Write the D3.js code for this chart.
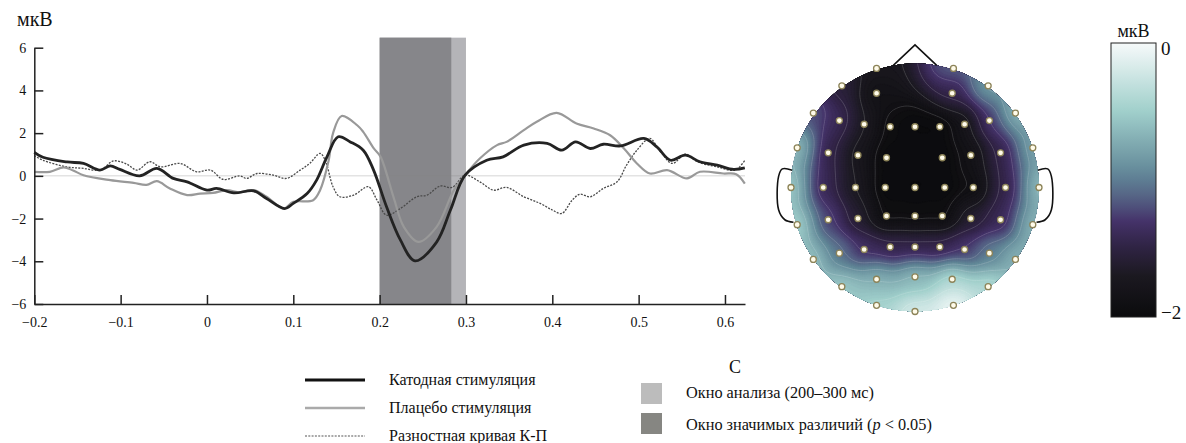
<!DOCTYPE html>
<html>
<head>
<meta charset="utf-8">
<script src="https://cdn.jsdelivr.net/npm/d3@7"></script>
<style>
  body { margin: 0; background: #fff; }
  svg { display: block; }
  text { font-family: "Liberation Serif", "Times New Roman", serif; fill: #111; }
</style>
</head>
<body>
<svg id="chart" width="1186" height="443"></svg>
<script>
// ---- ERP data (time in s, amplitude in uV) ----
const cathodeT = [-0.2, -0.19, -0.162, -0.143, -0.124, -0.112, -0.101, -0.078, -0.058, -0.039, -0.023, 0.0, 0.011, 0.031, 0.054, 0.069, 0.09, 0.1, 0.116, 0.127, 0.139, 0.152, 0.166, 0.181, 0.193, 0.208, 0.224, 0.241, 0.266, 0.282, 0.299, 0.324, 0.343, 0.367, 0.394, 0.411, 0.427, 0.444, 0.459, 0.479, 0.506, 0.521, 0.537, 0.554, 0.571, 0.591, 0.61, 0.623];
const cathodeV = [1.1, 0.87, 0.65, 0.58, 0.27, 0.47, 0.3, 0.0, 0.35, -0.12, -0.28, -0.67, -0.59, -0.8, -0.7, -1.06, -1.53, -1.29, -0.83, -0.2, 0.89, 1.83, 1.59, 1.2, 0.27, -1.45, -3.0, -3.98, -3.1, -1.6, 0.03, 0.73, 0.89, 1.44, 1.52, 1.2, 1.59, 1.28, 1.48, 1.4, 1.75, 1.36, 0.73, 0.97, 0.66, 0.5, 0.3, 0.37];

const placeboT = [-0.2, -0.182, -0.166, -0.155, -0.143, -0.112, -0.085, -0.07, -0.058, -0.043, -0.023, -0.008, 0.007, 0.023, 0.038, 0.054, 0.069, 0.089, 0.1, 0.123, 0.131, 0.141, 0.146, 0.156, 0.174, 0.181, 0.193, 0.201, 0.216, 0.228, 0.245, 0.266, 0.286, 0.299, 0.316, 0.336, 0.347, 0.367, 0.382, 0.405, 0.428, 0.448, 0.467, 0.483, 0.498, 0.513, 0.533, 0.556, 0.571, 0.598, 0.613, 0.623];
const placeboV = [0.19, 0.19, 0.4, 0.25, 0.03, -0.2, -0.33, -0.42, -0.25, -0.59, -0.9, -0.83, -0.8, -0.67, -0.77, -0.67, -0.98, -1.53, -1.22, -1.14, -0.67, 0.73, 1.99, 2.8, 2.37, 2.06, 1.3, 0.9, -0.98, -2.39, -3.09, -2.39, -0.67, 0.03, 0.81, 1.44, 1.59, 2.14, 2.53, 2.95, 2.45, 2.22, 1.9, 1.28, 0.58, 0.11, 0.27, -0.12, 0.19, 0.11, 0.08, -0.36];

const diffT = [-0.2, -0.19, -0.162, -0.143, -0.124, -0.108, -0.093, -0.081, -0.066, -0.054, -0.031, -0.012, 0.004, 0.019, 0.038, 0.046, 0.058, 0.077, 0.092, 0.108, 0.119, 0.131, 0.137, 0.146, 0.154, 0.17, 0.187, 0.197, 0.208, 0.224, 0.243, 0.255, 0.27, 0.284, 0.299, 0.316, 0.332, 0.347, 0.367, 0.386, 0.4, 0.411, 0.423, 0.432, 0.444, 0.459, 0.475, 0.486, 0.498, 0.513, 0.524, 0.539, 0.554, 0.568, 0.591, 0.612, 0.623];
const diffV = [0.95, 0.73, 0.42, 0.35, 0.27, 0.7, 0.55, 0.27, 0.66, 0.42, 0.58, 0.19, 0.27, -0.17, 0.0, -0.12, 0.11, 0.03, -0.12, 0.27, 0.58, 1.05, 0.73, -0.51, -0.98, -0.9, -0.51, -1.14, -1.84, -1.53, -0.98, -0.9, -0.48, -0.54, 0.03, -0.28, -0.67, -0.54, -0.98, -1.29, -1.6, -1.76, -1.14, -0.86, -0.98, -0.59, -0.28, 0.5, 1.2, 1.75, 1.2, 0.58, 1.02, 0.66, 0.42, 0.27, 0.73];

const xTicks = [-0.2, -0.1, 0, 0.1, 0.2, 0.3, 0.4, 0.5, 0.6];
const yTicks = [-6, -4, -2, 0, 2, 4, 6];
const analysisWindow = [0.2, 0.3];
const signifWindow = [0.2, 0.283];

// ---- topography: electrode positions (unit head coords) and mean amplitude 200-300 ms ----
const elecX = [-0.31, 0.31, -0.59, 0.59, -0.31, 0.30, -0.82, 0.81, -0.61, 0.60, -0.41, -0.20, 0, 0.20, 0.40, -0.95, 0.95, -0.70, -0.46, -0.23, 0.22, 0.45, 0.69, -1.0, -0.74, -0.48, -0.24, 0, 0.24, 0.47, 0.73, 1.0, -0.95, -0.70, -0.46, -0.23, 0, 0.22, 0.45, 0.69, 0.95, -0.61, -0.41, -0.20, 0, 0.20, 0.40, 0.60, -0.82, 0.81, -0.31, 0, 0.30, -0.59, 0.59, -0.31, 0.31, 0];
const elecY = [-0.96, -0.96, -0.82, -0.82, -0.76, -0.76, -0.60, -0.60, -0.54, -0.54, -0.51, -0.49, -0.49, -0.49, -0.51, -0.32, -0.32, -0.28, -0.26, -0.24, -0.24, -0.26, -0.28, 0, 0, 0, 0, 0, 0, 0, 0, 0, 0.30, 0.26, 0.25, 0.23, 0.23, 0.23, 0.25, 0.26, 0.30, 0.53, 0.50, 0.48, 0.48, 0.48, 0.50, 0.53, 0.58, 0.58, 0.74, 0.72, 0.74, 0.80, 0.80, 0.95, 0.95, 1.0];
const elecV = [-1.75, -1.15, -1.55, -0.85, -1.85, -1.45, -1.2, -0.7, -1.4, -1.3, -1.7, -1.95, -2.0, -2.0, -1.8, -0.65, -0.8, -1.45, -1.75, -2.0, -2.0, -1.85, -1.45, -0.55, -1.4, -1.7, -2.0, -2.0, -2.0, -1.9, -1.45, -0.65, -0.5, -1.25, -1.6, -1.95, -1.95, -1.95, -1.6, -1.4, -0.7, -1.05, -1.35, -1.45, -1.45, -1.45, -1.3, -1.0, -0.6, -0.7, -0.7, -0.65, -0.4, -0.55, -0.4, -0.45, -0.05, -0.2];
const cbarTicks = [0, -2];

const svg = d3.select("#chart");

// ---------------- ERP plot ----------------
const x = d3.scaleLinear().domain([-0.2, 0.6232]).range([34.3, 745]);
const y = d3.scaleLinear().domain([-6, 6]).range([304, 47.7]);
const shadeTop = 6.47;

svg.append("rect")
  .attr("x", x(analysisWindow[0])).attr("y", y(shadeTop))
  .attr("width", x(analysisWindow[1]) - x(analysisWindow[0]))
  .attr("height", y(-6) - y(shadeTop))
  .attr("fill", "#b4b4b8");
svg.append("rect")
  .attr("x", x(signifWindow[0])).attr("y", y(shadeTop))
  .attr("width", x(signifWindow[1]) - x(signifWindow[0]))
  .attr("height", y(-6) - y(shadeTop))
  .attr("fill", "#86868a");

// zero line
svg.append("line")
  .attr("x1", x(-0.2)).attr("x2", x(0.6232))
  .attr("y1", y(0)).attr("y2", y(0))
  .attr("stroke", "#888").attr("stroke-opacity", 0.35).attr("stroke-width", 1);

const line = d3.line().x(d => x(d[0])).y(d => y(d[1])).curve(d3.curveCatmullRom.alpha(0.5));

svg.append("path").datum(d3.zip(diffT, diffV))
  .attr("fill", "none").attr("stroke", "#4a4a4a").attr("stroke-width", 1.3)
  .attr("stroke-dasharray", "2,1.3").attr("d", line);
svg.append("path").datum(d3.zip(placeboT, placeboV))
  .attr("fill", "none").attr("stroke", "#999").attr("stroke-width", 2.2).attr("d", line);
svg.append("path").datum(d3.zip(cathodeT, cathodeV))
  .attr("fill", "none").attr("stroke", "#232323").attr("stroke-width", 2.8).attr("d", line);

const yAxis = svg.append("g").attr("transform", `translate(${x(-0.2)},0)`)
  .call(d3.axisLeft(y).tickValues(yTicks).tickSize(-9).tickSizeOuter(0).tickPadding(8).tickFormat(d3.format("d")));
const xAxis = svg.append("g").attr("transform", `translate(0,${y(-6)})`)
  .call(d3.axisBottom(x).tickValues(xTicks).tickSize(-9).tickSizeOuter(0).tickPadding(13).tickFormat(d => d === 0 ? "0" : d3.format(".1f")(d)));
[xAxis, yAxis].forEach(g => {
  g.selectAll("path, line").attr("stroke", "#222").attr("stroke-width", 1.5);
  g.selectAll("text").attr("font-size", 14).attr("font-family", "Liberation Serif").attr("fill", "#111");
});

svg.append("text").attr("x", 17).attr("y", 26).attr("font-size", 20).text("мкВ");
svg.append("text").attr("x", 735).attr("y", 373).attr("text-anchor", "middle").attr("font-size", 18).text("С");

// ---------------- legend ----------------
const legLines = [
  { label: "Катодная стимуляция", stroke: "#111", width: 3, dash: null },
  { label: "Плацебо стимуляция", stroke: "#aaa", width: 2.5, dash: null },
  { label: "Разностная кривая К-П", stroke: "#555", width: 1.2, dash: "2,1.3" }
];
const legY = d3.scalePoint().domain(legLines.map(d => d.label)).range([380, 436]);
legLines.forEach(d => {
  svg.append("line").attr("x1", 305).attr("x2", 365).attr("y1", legY(d.label)).attr("y2", legY(d.label))
    .attr("stroke", d.stroke).attr("stroke-width", d.width).attr("stroke-dasharray", d.dash);
  svg.append("text").attr("x", 389).attr("y", legY(d.label) + 5).attr("font-size", 16).text(d.label);
});

const legBoxes = [
  { fill: "#bcbcbc", y: 383 },
  { fill: "#868682", y: 413 }
];
legBoxes.forEach(d => {
  svg.append("rect").attr("x", 641).attr("y", d.y).attr("width", 21).attr("height", 21).attr("fill", d.fill);
});
svg.append("text").attr("x", 686).attr("y", 398).attr("font-size", 16.3).text("Окно анализа (200–300 мс)");
const t2 = svg.append("text").attr("x", 686).attr("y", 430).attr("font-size", 16.3);
t2.append("tspan").text("Окно значимых различий (");
t2.append("tspan").attr("font-style", "italic").text("p");
t2.append("tspan").text(" < 0.05)");

// ---------------- topomap ----------------
const cx = 915, cy = 187.5, R = 124;
const hx = d3.scaleLinear().domain([-1, 1]).range([cx - R, cx + R]);
const hy = d3.scaleLinear().domain([-1, 1]).range([cy - R, cy + R]);

const color = d3.scaleLinear()
  .domain([-2, -1.7, -1.45, -1.3, -1.15, -0.95, -0.5, 0])
  .range(["#0b0b0d", "#1b1920", "#33254a", "#45336a", "#535d82", "#628898", "#a0cfcb", "#f6fafa"])
  .clamp(true);

const n = 120, span = 1.08;
let grid = new Float64Array(n * n);
for (let j = 0; j < n; j++) {
  for (let i = 0; i < n; i++) {
    const px = -span + (i + 0.5) * 2 * span / n;
    const py = -span + (j + 0.5) * 2 * span / n;
    let ws = 0, vs = 0;
    for (let k = 0; k < elecV.length; k++) {
      const d2 = (px - elecX[k]) ** 2 + (py - elecY[k]) ** 2 + 1e-6;
      const w = 1 / (d2 * d2);
      ws += w; vs += w * elecV[k];
    }
    grid[j * n + i] = vs / ws;
  }
}
if (d3.blur2) d3.blur2({ data: grid, width: n, height: n }, 3);

const defs = svg.append("defs");
defs.append("clipPath").attr("id", "headClip")
  .append("circle").attr("cx", cx).attr("cy", cy).attr("r", R);

const proj = d3.geoIdentity().scale(2 * span * R / n).translate([cx - span * R, cy - span * R]);
const gpath = d3.geoPath(proj);
const fillLevels = d3.range(-2.2, 0.05, 0.03);
const topo = svg.append("g").attr("clip-path", "url(#headClip)");
topo.selectAll("path.fill")
  .data(d3.contours().size([n, n]).smooth(true).thresholds(fillLevels)(grid))
  .join("path").attr("class", "fill")
  .attr("d", gpath).attr("fill", d => color(d.value + 0.015)).attr("stroke", d => color(d.value + 0.015)).attr("stroke-width", 0.5);
topo.selectAll("path.iso")
  .data(d3.contours().size([n, n]).thresholds(d3.range(-1.9, 0, 0.2))(grid))
  .join("path").attr("class", "iso")
  .attr("d", gpath).attr("fill", "none").attr("stroke", "#fff").attr("stroke-opacity", 0.2).attr("stroke-width", 0.8);

// nose and ears
const hline = d3.line().x(d => hx(d[0])).y(d => hy(d[1])).curve(d3.curveCatmullRom);
const nose = [[-0.175, -0.985], [0, -1.15], [0.175, -0.985]];
const earL = [[-0.99, -0.14], [-1.07, -0.15], [-1.10, -0.09], [-1.10, 0.18], [-1.05, 0.26], [-0.98, 0.28]];
const earR = earL.map(p => [-p[0], p[1]]);
svg.append("path").attr("d", d3.line().x(d => hx(d[0])).y(d => hy(d[1]))(nose))
  .attr("fill", "none").attr("stroke", "#111").attr("stroke-width", 1.6);
[earL, earR].forEach(e => svg.append("path").attr("d", hline(e))
  .attr("fill", "none").attr("stroke", "#111").attr("stroke-width", 1.6));

svg.append("g").selectAll("circle")
  .data(d3.range(elecV.length))
  .join("circle")
  .attr("cx", k => hx(elecX[k])).attr("cy", k => hy(elecY[k])).attr("r", 3)
  .attr("fill", "#fffbea").attr("stroke", "#8c8358").attr("stroke-width", 1.3);

// ---------------- colorbar ----------------
const cb = { x: 1111, y: 43, w: 45, h: 274 };
const cbScale = d3.scaleLinear().domain([0, -2]).range([cb.y, cb.y + cb.h]);
const grad = defs.append("linearGradient").attr("id", "cbGrad")
  .attr("x1", 0).attr("x2", 0).attr("y1", 0).attr("y2", 1);
d3.range(0, 1.0001, 0.05).forEach(t => {
  grad.append("stop").attr("offset", t).attr("stop-color", color(-2 * t));
});
svg.append("rect").attr("x", cb.x).attr("y", cb.y).attr("width", cb.w).attr("height", cb.h)
  .attr("fill", "url(#cbGrad)").attr("stroke", "#222").attr("stroke-width", 1);
svg.append("text").attr("x", cb.x + cb.w / 2).attr("y", 37).attr("text-anchor", "middle").attr("font-size", 18).text("мкВ");
svg.selectAll("text.cbt").data(cbarTicks).join("text").attr("class", "cbt")
  .attr("x", cb.x + cb.w + 5).attr("y", d => cbScale(d) + (d === 0 ? 12 : 2))
  .attr("font-size", 19)
  .text(d => d === 0 ? "0" : "−2");
</script>
</body>
</html>
